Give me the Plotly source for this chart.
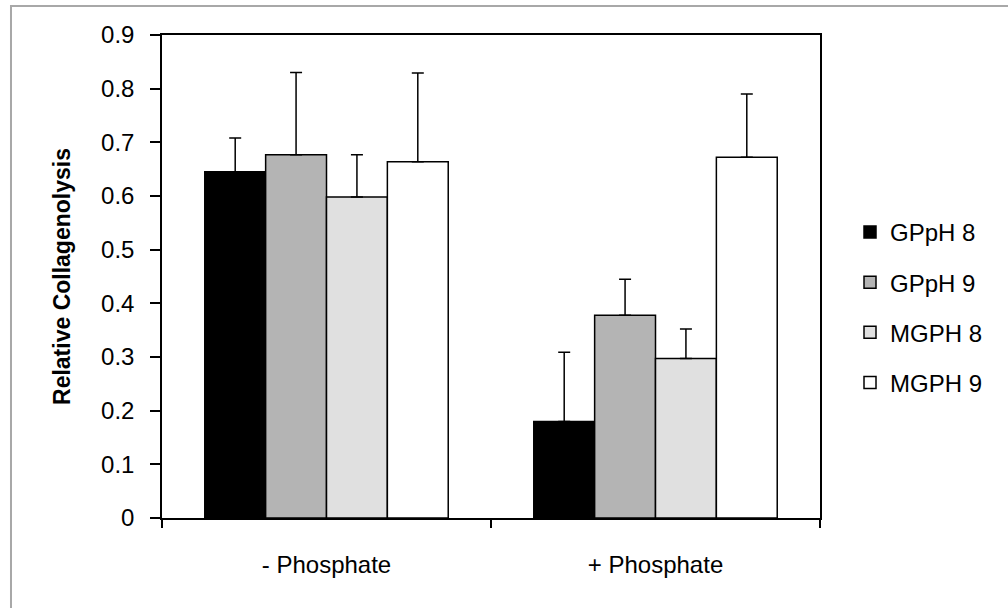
import plotly.graph_objects as go

categories = ["- Phosphate", "+ Phosphate"]
series_names = ["GPpH 8", "GPpH 9", "MGPH 8", "MGPH 9"]
series_values = [
    [0.645, 0.180],
    [0.677, 0.378],
    [0.598, 0.297],
    [0.664, 0.672],
]
error_tops = [
    [0.708, 0.309],
    [0.830, 0.445],
    [0.677, 0.352],
    [0.829, 0.790],
]
colors = ["#000000", "#B4B4B4", "#E0E0E0", "#FFFFFF"]
y_ticks = [0, 0.1, 0.2, 0.3, 0.4, 0.5, 0.6, 0.7, 0.8, 0.9]
y_tick_labels = ["0", "0.1", "0.2", "0.3", "0.4", "0.5", "0.6", "0.7", "0.8", "0.9"]

FONT = "Liberation Sans, Arial, sans-serif"

fig = go.Figure()
for name, vals, tops, col in zip(series_names, series_values, error_tops, colors):
    fig.add_trace(go.Bar(
        x=categories, y=vals, name=name, legendgroup=name,
        marker=dict(color=col, line=dict(color="#000000", width=1.5)),
        error_y=dict(type="data", symmetric=False,
                     array=[t - v for t, v in zip(tops, vals)],
                     arrayminus=[0] * len(vals),
                     color="#000000", thickness=1.5, width=6),
    ))

fig.update_layout(
    width=1008, height=608,
    margin=dict(l=162, r=188, t=35, b=90),
    paper_bgcolor="#FFFFFF", plot_bgcolor="#FFFFFF",
    barmode="group", bargap=0.26, bargroupgap=0,
    font=dict(family=FONT, size=24, color="#000000"),
    showlegend=True,
    legend=dict(x=1.0456, xanchor="left", y=0.638, yanchor="top",
                font=dict(family=FONT, size=24, color="#000000"),
                tracegroupgap=16, traceorder="grouped", bgcolor="rgba(0,0,0,0)"),
    shapes=[dict(type="rect", xref="paper", yref="paper",
                 x0=-0.2295, x1=1.5, y0=-0.5, y1=1.06,
                 line=dict(color="#A8A8A8", width=2), layer="below")],
)
fig.update_xaxes(
    showline=True, linecolor="#000000", linewidth=1.5, mirror=True,
    ticks="outside", tickson="boundaries", ticklen=8, tickcolor="#000000", tickwidth=1.5,
    showgrid=False, ticklabelstandoff=24,
    tickfont=dict(family=FONT, size=24, color="#000000"),
)
fig.update_yaxes(
    range=[0, 0.9], tickvals=y_ticks, ticktext=y_tick_labels,
    showline=True, linecolor="#000000", linewidth=1.5, mirror=True,
    ticks="outside", ticklen=10, tickcolor="#000000", tickwidth=1.5,
    showgrid=False, zeroline=False, ticklabelstandoff=11,
    tickfont=dict(family=FONT, size=24, color="#000000"),
    title=dict(text="<b>Relative Collagenolysis</b>", standoff=24,
               font=dict(family=FONT, size=23, color="#000000")),
)

fig.write_html("out.html")
